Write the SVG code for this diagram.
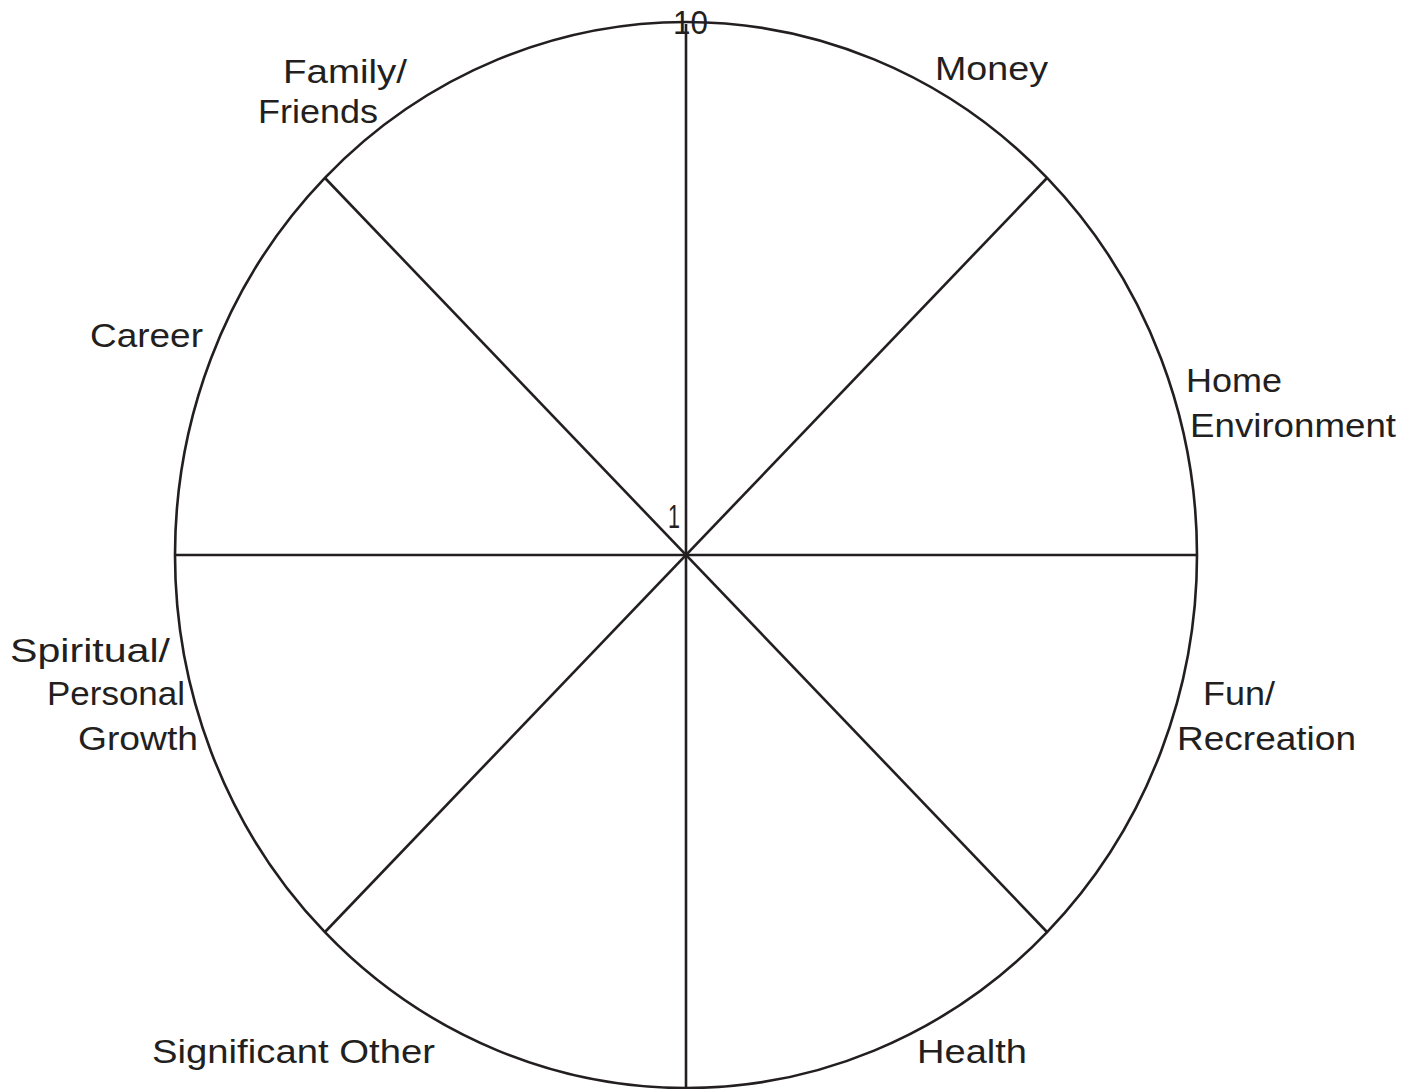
<svg xmlns="http://www.w3.org/2000/svg" width="1417" height="1089" viewBox="0 0 1417 1089">
<style>
.l{font-family:"Liberation Sans","DejaVu Sans",sans-serif;font-size:33px;fill:#231f20;}
.s{stroke:#231f20;stroke-width:2.6;fill:none;}
</style>
<rect width="1417" height="1089" fill="#fff"/>
<g id="wheel">
<ellipse class="s" cx="686" cy="555" rx="511" ry="533"/>
</g>
<g id="connectors">
<line class="s" x1="686" y1="24" x2="686" y2="1088"/>
<line class="s" x1="175" y1="555" x2="1197" y2="555"/>
<line class="s" x1="325" y1="178" x2="1047" y2="932"/>
<line class="s" x1="1047" y1="178" x2="325" y2="932"/>
</g>
<g id="scale">
<text class="l" x="673" y="34" textLength="35" lengthAdjust="spacingAndGlyphs">10</text>
<text class="l" x="668" y="528" textLength="12" lengthAdjust="spacingAndGlyphs">1</text>
</g>
<g id="family"><text class="l" x="283" y="83" textLength="124" lengthAdjust="spacingAndGlyphs">Family/</text><text class="l" x="258" y="123" textLength="120" lengthAdjust="spacingAndGlyphs">Friends</text></g>
<g id="money"><text class="l" x="935" y="80" textLength="113" lengthAdjust="spacingAndGlyphs">Money</text></g>
<g id="career"><text class="l" x="90" y="347" textLength="113" lengthAdjust="spacingAndGlyphs">Career</text></g>
<g id="home"><text class="l" x="1186" y="392" textLength="96" lengthAdjust="spacingAndGlyphs">Home</text><text class="l" x="1190" y="437" textLength="206" lengthAdjust="spacingAndGlyphs">Environment</text></g>
<g id="spiritual"><text class="l" x="10" y="662" textLength="160" lengthAdjust="spacingAndGlyphs">Spiritual/</text><text class="l" x="47" y="705" textLength="138" lengthAdjust="spacingAndGlyphs">Personal</text><text class="l" x="78" y="750" textLength="120" lengthAdjust="spacingAndGlyphs">Growth</text></g>
<g id="fun"><text class="l" x="1203" y="705" textLength="72" lengthAdjust="spacingAndGlyphs">Fun/</text><text class="l" x="1177" y="750" textLength="179" lengthAdjust="spacingAndGlyphs">Recreation</text></g>
<g id="significant"><text class="l" x="152" y="1063" textLength="283" lengthAdjust="spacingAndGlyphs">Significant Other</text></g>
<g id="health"><text class="l" x="917" y="1063" textLength="110" lengthAdjust="spacingAndGlyphs">Health</text></g>
</svg>
